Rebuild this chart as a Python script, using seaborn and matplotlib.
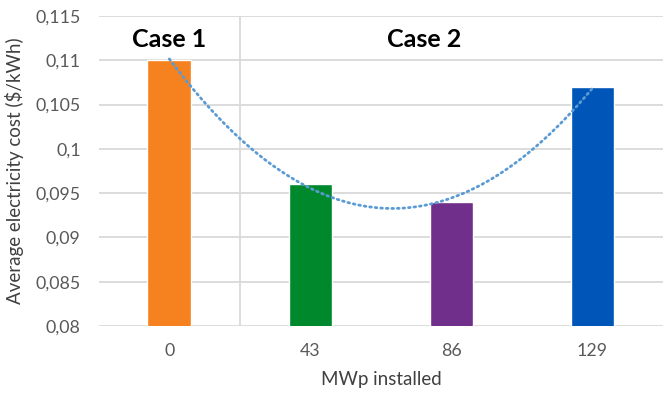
import numpy as np
import pandas as pd
import matplotlib
matplotlib.use("Agg")
import matplotlib.pyplot as plt
import seaborn as sns

# Data
mwp_labels = ["0", "43", "86", "129"]
avg_cost = [0.110, 0.096, 0.094, 0.107]
bar_colors = ["#F5821F", "#00892C", "#702F8A", "#0055B8"]
y_ticks = [0.08, 0.085, 0.09, 0.095, 0.10, 0.105, 0.11, 0.115]
y_tick_labels = ["0,08", "0,085", "0,09", "0,095", "0,1", "0,105", "0,11", "0,115"]

sns.set_style("white")
plt.rcParams["font.family"] = ["Lato", "DejaVu Sans"]

df = pd.DataFrame({"mwp": mwp_labels, "cost": avg_cost})

fig = plt.figure(figsize=(6.63, 3.99), dpi=100)
ax = fig.add_axes([0.149, 0.183, 0.851, 0.777])

# horizontal gridlines
for t in y_ticks:
    ax.axhline(t, color="#d9d9d9", lw=1.3, zorder=0)

sns.barplot(data=df, x="mwp", y="cost", hue="mwp", palette=bar_colors,
            order=mwp_labels, hue_order=mwp_labels, legend=False,
            width=0.31, saturation=1, ax=ax, zorder=2)

# polynomial (order 2) trendline through the bar values
pos = np.arange(len(avg_cost))
coef = np.polyfit(pos, avg_cost, 2)
xs = np.linspace(pos[0], pos[-1], 200)
ax.plot(xs, np.polyval(coef, xs), color="#5B9BD5", lw=2.0,
        linestyle=(0, (0.6, 1.4)), dash_capstyle="round", zorder=3)

# separator between the two cases
ax.axvline(0.5, color="#d9d9d9", lw=1.3, zorder=1)

ax.set_ylim(0.08, 0.115)
ax.set_xlim(-0.5, 3.5)
ax.set_yticks(y_ticks)
ax.set_yticklabels(y_tick_labels)
ax.tick_params(axis="both", length=0, labelsize=12.8, colors="#595959")
ax.tick_params(axis="y", pad=13)
ax.tick_params(axis="x", pad=12)
for s in ax.spines.values():
    s.set_visible(False)

ax.set_xlabel("MWp installed", fontsize=13.5, color="#404040", labelpad=9)
ax.set_ylabel("Average electricity cost ($/kWh)", fontsize=13.5, color="#404040", labelpad=8)

ax.text(0, 0.1123, "Case 1", ha="center", va="center", fontsize=18, fontweight="bold", color="black")
ax.text(1.81, 0.1123, "Case 2", ha="center", va="center", fontsize=18, fontweight="bold", color="black")

fig.savefig("out.png", dpi=100, facecolor="white")
